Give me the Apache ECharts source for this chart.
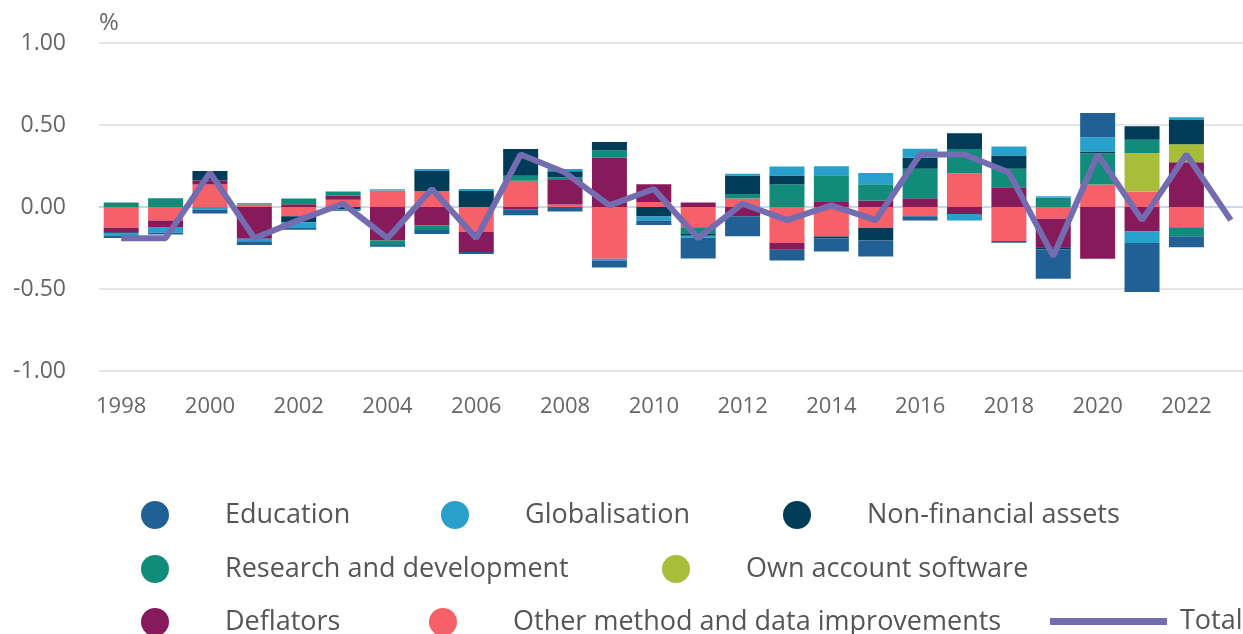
<!DOCTYPE html>
<html>
<head>
<meta charset="utf-8">
<script src="https://cdn.jsdelivr.net/npm/echarts@6/dist/echarts.min.js"></script>
<style>
  html, body { margin: 0; padding: 0; background: #fff; }
  #chart { width: 1243px; height: 634px; }
</style>
</head>
<body>
<div id="chart"></div>
<script>
const years = ['1998','1999','2000','2001','2002','2003','2004','2005','2006','2007','2008','2009','2010',
  '2011','2012','2013','2014','2015','2016','2017','2018','2019','2020','2021','2022','2023'];

const education = [-0.015, -0.01, -0.024, -0.022, -0.01, -0.005, -0.012, -0.024, -0.012, -0.036, -0.027, -0.043, -0.027,
  -0.126, -0.122, -0.065, -0.081, -0.098, -0.026, 0, -0.01, -0.181, 0.148, -0.299, -0.067, null];
const globalisation = [-0.015, -0.035, -0.016, -0.015, -0.035, -0.005, 0.008, 0.012, 0.012, 0, 0.014, -0.01, -0.024,
  -0.012, 0.01, 0.055, 0.055, 0.069, 0.055, -0.041, 0.055, 0.01, 0.087, -0.071, 0.016, null];
const nonFinancial = [-0.005, 0, 0.057, 0, -0.037, -0.015, 0, 0.122, 0.097, 0.163, 0.037, 0.051, -0.058,
  -0.012, 0.112, 0.055, -0.01, -0.077, 0.067, 0.096, 0.081, -0.012, 0.01, 0.083, 0.148, null];
const research = [0.028, 0.054, 0, 0.008, 0.035, 0.026, -0.027, -0.027, 0, 0.03, 0.016, 0.045, 0,
  -0.041, 0.028, 0.137, 0.163, 0.098, 0.179, 0.148, 0.112, 0.056, 0.191, 0.081, -0.055, null];
const software = [0, 0, 0, 0, 0, 0, 0, 0, 0, 0, 0, 0, 0,
  0, 0, 0, 0, 0, 0, 0, 0, 0, 0, 0.234, 0.11, null];
const deflators = [-0.027, -0.04, 0.025, -0.194, 0.017, 0.024, -0.204, -0.113, -0.122, -0.014, 0.15, 0.3, 0.108,
  0.027, -0.056, -0.041, 0.03, 0.04, 0.054, -0.042, 0.121, -0.173, -0.316, -0.149, 0.273, null];
const otherImprovements = [-0.127, -0.082, 0.137, 0.015, -0.056, 0.044, 0.1, 0.097, -0.152, 0.16, 0.015, -0.316, 0.03,
  -0.123, 0.052, -0.22, -0.18, -0.127, -0.056, 0.206, -0.208, -0.072, 0.137, 0.095, -0.123, null];
const total = [-0.19, -0.19, 0.21, -0.19, -0.08, 0.02, -0.19, 0.11, -0.19, 0.32, 0.21, 0.01, 0.11,
  -0.19, 0.02, -0.08, 0.01, -0.08, 0.32, 0.32, 0.21, -0.3, 0.32, -0.08, 0.32, -0.08];

const FONT = "'Open Sans', sans-serif";

// stacking order from zero outwards
const barSeries = [
  { name: 'Other method and data improvements', data: otherImprovements, color: '#f66068' },
  { name: 'Deflators', data: deflators, color: '#871a5b' },
  { name: 'Own account software', data: software, color: '#a8bd3a' },
  { name: 'Research and development', data: research, color: '#118c7b' },
  { name: 'Non-financial assets', data: nonFinancial, color: '#003c57' },
  { name: 'Globalisation', data: globalisation, color: '#27a0cc' },
  { name: 'Education', data: education, color: '#206095' }
];

// legend positions: [name, left, rowCenterY]
const legendSpots = [
  ['Education', 141, 513],
  ['Globalisation', 441, 513],
  ['Non-financial assets', 783, 513],
  ['Research and development', 141, 567],
  ['Own account software', 662, 567],
  ['Deflators', 141, 620],
  ['Other method and data improvements', 429, 620]
];

const legends = legendSpots.map(([name, left, cy]) => ({
  data: [name],
  left: left,
  top: cy - 12,
  padding: 0,
  icon: 'circle',
  itemWidth: 28,
  itemHeight: 28,
  selectedMode: false,
  textStyle: { fontFamily: FONT, fontSize: 27, color: '#555', padding: [0, 0, 0, 51] }
}));
legends.push({
  data: ['Total'],
  left: 1050,
  top: 620 - 12,
  padding: 0,
  icon: 'rect',
  itemWidth: 117,
  itemHeight: 7,
  selectedMode: false,
  textStyle: { fontFamily: FONT, fontSize: 27, color: '#555', padding: [0, 0, 0, 8] }
});

const chart = echarts.init(document.getElementById('chart'));

chart.setOption({
  animation: false,
  textStyle: { fontFamily: FONT },
  legend: legends,
  grid: { left: 99, right: -10, top: 43, bottom: 263, outerBoundsMode: 'none' },
  xAxis: {
    type: 'category',
    data: years,
    axisLine: { lineStyle: { color: '#ccd6eb', width: 2 } },
    axisTick: { alignWithLabel: true, interval: 1, length: 18, lineStyle: { color: '#ccd6eb', width: 1 } },
    axisLabel: { interval: 1, fontFamily: FONT, fontSize: 22, color: '#666', margin: 25 }
  },
  yAxis: {
    type: 'value',
    min: -1,
    max: 1,
    interval: 0.5,
    name: '%',
    nameGap: 8,
    nameTextStyle: { fontFamily: FONT, fontSize: 24, color: '#666', align: 'left' },
    axisLine: { show: false },
    axisTick: { show: false },
    axisLabel: { fontFamily: FONT, fontSize: 23, color: '#666', margin: 33, formatter: v => v.toFixed(2) },
    splitLine: { lineStyle: { color: '#e6e6e6', width: 2 } }
  },
  series: barSeries.map(s => ({
    name: s.name,
    type: 'bar',
    stack: 'total',
    barWidth: 35,
    data: s.data,
    itemStyle: { color: s.color }
  })).concat([{
    name: 'Total',
    type: 'line',
    data: total,
    symbol: 'none',
    z: 10,
    lineStyle: { color: '#746cb1', width: 6 },
    itemStyle: { color: '#746cb1' }
  }])
});
</script>
</body>
</html>
